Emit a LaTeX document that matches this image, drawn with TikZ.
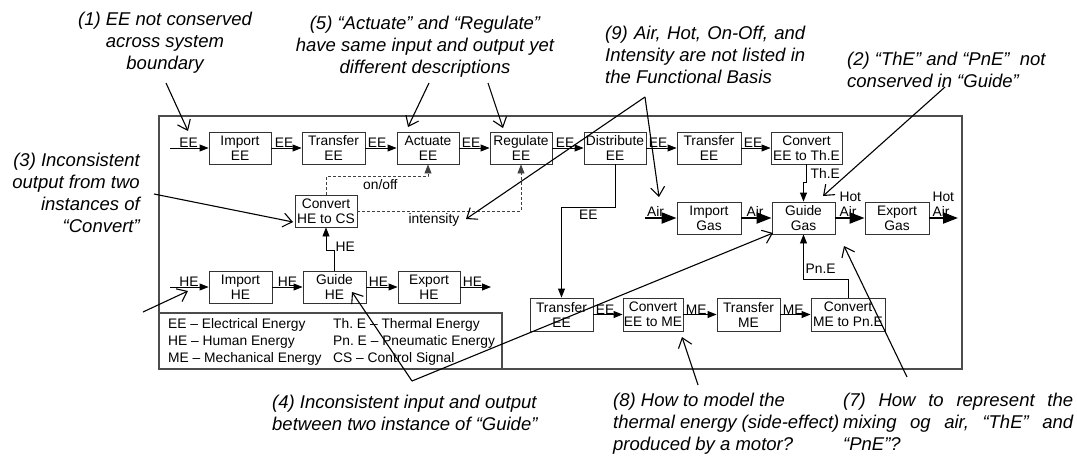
\documentclass[tikz,border=0pt]{standalone}
\usepackage{fontspec}
\setmainfont{Liberation Sans}
\usetikzlibrary{arrows.meta}
\newcommand{\bxfont}{\fontsize{13.8}{15}\selectfont}
\newcommand{\anfont}{\fontsize{18.5}{22}\selectfont\itshape}
\frenchspacing
\begin{document}
\begin{tikzpicture}[x=1pt,y=-1pt,
  box/.style={draw=black!80, line width=0.9pt, minimum height=32pt, inner sep=0pt, align=center, font=\bxfont},
  flow/.style={draw=black, line width=0.9pt, -{Triangle[length=9pt,width=7pt]}},
  gasflow/.style={draw=black, line width=2.2pt, -{Triangle[length=15pt,width=11pt]}},
  ctrl/.style={draw=black!75, line width=0.9pt, dash pattern=on 3pt off 2pt, -{Triangle[length=9pt,width=7pt]}},
  lab/.style={anchor=south west, inner sep=0pt, font=\bxfont},
  leg/.style={anchor=base west, inner sep=0pt, font=\bxfont},
  note/.style={inner sep=0pt, font=\anfont},
  ann/.style={draw=black, line width=1.1pt, -{Straight Barb[length=9pt,width=14pt]}},
  frame/.style={draw=black!70, line width=1.3pt}]
\useasboundingbox (0,0) rectangle (1077,459);
% system boundary and legend
\draw[frame] (159,116) rectangle (962,369);
\draw[frame] (159,313) rectangle (502,369);
\node[leg] (l1) at (168,328) {EE – Electrical Energy};
\node[leg] (l2) at (168,345.5) {HE – Human Energy};
\node[leg] (l3) at (168,362) {ME – Mechanical Energy};
\node[leg] (l4) at (333,328) {Th. E – Thermal Energy};
\node[leg] (l5) at (333,345.5) {Pn. E – Pneumatic Energy};
\node[leg] (l6) at (333,362) {CS – Control Signal};
% top row
\node[box, minimum width=62pt] (ie) at (240,148) {Import\\EE};
\node[box, minimum width=63pt] (te1) at (333.5,148) {Transfer\\EE};
\node[box, minimum width=62pt] (ae) at (428,148) {Actuate\\EE};
\node[box, minimum width=62pt] (re) at (521,148) {Regulate\\EE};
\node[box, minimum width=62pt] (de) at (615,148) {Distribute\\EE};
\node[box, minimum width=64pt] (te2) at (709,148) {Transfer\\EE};
\node[box, minimum width=71pt] (cth) at (806.5,148) {Convert\\EE to Th.E};
% control
\node[box, minimum width=62pt] (ccs) at (326,211) {Convert\\HE to CS};
% HE row
\node[box, minimum width=63pt] (ih) at (240.5,287) {Import\\HE};
\node[box, minimum width=63pt] (gh) at (334.5,287) {Guide\\HE};
\node[box, minimum width=62pt] (eh) at (429,287) {Export\\HE};
% gas row
\node[box, minimum width=64pt] (ig) at (709,218) {Import\\Gas};
\node[box, minimum width=63pt] (gg) at (803.5,218) {Guide\\Gas};
\node[box, minimum width=64pt] (eg) at (897,218) {Export\\Gas};
% bottom row
\node[box, minimum width=63pt, minimum height=33pt] (te3) at (561.5,314.5) {Transfer\\EE};
\node[box, minimum width=60pt, minimum height=33pt] (cme) at (653,314.5) {Convert\\EE to ME};
\node[box, minimum width=63pt, minimum height=33pt] (tme) at (748.5,314.5) {Transfer\\ME};
\node[box, minimum width=74pt, minimum height=33pt] (cpn) at (848,314.5) {Convert\\ME to Pn.E};
% top row flows
\coordinate (inEE) at (170,148);
\draw[flow] (inEE) -- (ie.west) node[lab,pos=0,xshift=9pt]{EE};
\draw[flow] (ie.east) -- (te1.west) node[lab,pos=0,xshift=3pt]{EE};
\draw[flow] (te1.east) -- (ae.west) node[lab,pos=0,xshift=2pt]{EE};
\draw[flow] (ae.east) -- (re.west) node[lab,pos=0,xshift=2pt]{EE};
\draw[flow] (re.east) -- (de.west) node[lab,pos=0,xshift=3pt]{EE};
\draw[flow] (de.east) -- (te2.west) node[lab,pos=0,xshift=2pt]{EE};
\draw[flow] (te2.east) -- (cth.west) node[lab,pos=0,xshift=2pt]{EE};
% HE row flows
\coordinate (inHE) at (170,287);
\coordinate (outHE) at (491,287);
\draw[flow] (inHE) -- (ih.west) node[lab,pos=0,xshift=9pt]{HE};
\draw[flow] (ih.east) -- (gh.west) node[lab,pos=0,xshift=5pt]{HE};
\draw[flow] (gh.east) -- (eh.west) node[lab,pos=0,xshift=2pt]{HE};
\draw[flow] (eh.east) -- (outHE) node[lab,pos=0,xshift=2pt]{HE};
\draw[flow] (gh.north) -- ++(0,-20) coordinate (k2) -| (ccs.south);
\node[lab, anchor=west] (lhe) at ([xshift=1pt,yshift=4pt]k2) {HE};
% control signals
\draw[ctrl] (ccs.north) -- ++(0,-18) coordinate (k1) -| (ae.south);
\node[lab, anchor=north west] (onoff) at ([xshift=37pt,yshift=-3pt]k1) {on/off};
\draw[ctrl] (ccs.east) -| (re.south);
\node[lab, anchor=north west] (intens) at ([xshift=51pt,yshift=-2pt]ccs.east) {intensity};
% distribute down
\draw[flow] (de.south) -- ++(0,43) coordinate (k5) -| (te3.north);
\node[lab, anchor=west] (lde) at ([xshift=-36pt,yshift=-7pt]k5) {EE};
% bottom row flows
\draw[flow] (te3.east) -- (cme.west) node[lab,pos=0,xshift=2pt]{EE};
\draw[flow] (cme.east) -- (tme.west) node[lab,pos=0,xshift=2pt]{ME};
\draw[flow] (tme.east) -- (cpn.west) node[lab,pos=0,xshift=2pt]{ME};
% thermal and pneumatic
\draw[flow] (cth.south) -- ++(0,18) coordinate (k3) -| (gg.north);
\node[lab, anchor=west] (lth) at ([xshift=4pt,yshift=9pt]k3) {Th.E};
\draw[flow] (cpn.north) -- ++(0,-18) coordinate (k4) -| (gg.south);
\node[lab, anchor=west] (lpn) at ([xshift=2pt,yshift=-34pt]gg.south) {Pn.E};
% gas row flows
\coordinate (inAir) at (645,218);
\coordinate (outAir) at (958,218);
\draw[gasflow] (inAir) -- (ig.west) node[lab,pos=0,xshift=1pt]{Air};
\draw[gasflow] (ig.east) -- (gg.west) node[lab,pos=0,xshift=4pt]{Air};
\draw[gasflow] (gg.east) -- (eg.west) node[lab,pos=0,xshift=3pt,align=left]{Hot\\Air};
\draw[gasflow] (eg.east) -- (outAir) node[lab,pos=0,xshift=2pt,align=left]{Hot\\Air};
% annotations
\node[note, align=center, anchor=north] (n1) at (165,12) {(1) EE not conserved\\across system\\boundary};
\coordinate (n1s) at (166,83); \coordinate (n1t) at (188,131);
\draw[ann] (n1s) -- (n1t);
\node[note, align=center, anchor=north] (n5) at (425,16) {(5) “Actuate” and “Regulate”\\have same input and output yet\\different descriptions};
\coordinate (n5a) at (429,83); \coordinate (n5at) at (408,127);
\coordinate (n5b) at (488,83); \coordinate (n5bt) at (503,128);
\draw[ann] (n5a) -- (n5at);
\draw[ann] (n5b) -- (n5bt);
\node[note, align=left, anchor=north west] (n9) at (605,26) {\makebox[200pt][s]{(9) Air, Hot, On-Off, and}\\\makebox[200pt][s]{Intensity are not listed in}\\the Functional Basis};
\coordinate (n9s) at (645,97); \coordinate (n9a) at (659,197); \coordinate (n9b) at (466,219);
\draw[ann] (n9s) -- (n9a);
\draw[ann] (n9s) -- (n9b);
\node[note, align=left, anchor=north west] (n2) at (847,52) {(2) “ThE” and “PnE”\ \ not\\conserved in “Guide”};
\coordinate (n2s) at (945,87); \coordinate (n2t) at (823,196);
\draw[ann] (n2s) -- (n2t);
\node[note, align=right, anchor=north east] (n3) at (140,153) {(3) Inconsistent\\output from two\\instances of\\“Convert”};
\coordinate (n3s) at (154,194); \coordinate (n3t) at (293,222);
\draw[ann] (n3s) -- (n3t);
\coordinate (hes) at (143,312); \coordinate (het) at (188,291);
\draw[ann] (hes) -- (het);
\node[note, align=left, anchor=north west] (n4) at (272,395) {(4) Inconsistent input and output\\between two instance of “Guide”};
\coordinate (n4s) at (412,381); \coordinate (n4a) at (352,292); \coordinate (n4b) at (773,233);
\draw[ann] (n4s) -- (n4a);
\draw[ann] (n4s) -- (n4b);
\node[note, align=left, anchor=north west] (n8) at (613,393) {(8) How to model the\\thermal energy (side-effect)\\produced by a motor?};
\coordinate (n8s) at (698,385); \coordinate (n8t) at (682,337);
\draw[ann] (n8s) -- (n8t);
\node[note, align=left, anchor=north west] (n7) at (843,393) {\makebox[230pt][s]{(7) How to represent the}\\\makebox[230pt][s]{mixing og air, “ThE” and}\\“PnE”?};
\coordinate (n7s) at (907,377); \coordinate (n7t) at (844,246);
\draw[ann] (n7s) -- (n7t);
\end{tikzpicture}
\end{document}
